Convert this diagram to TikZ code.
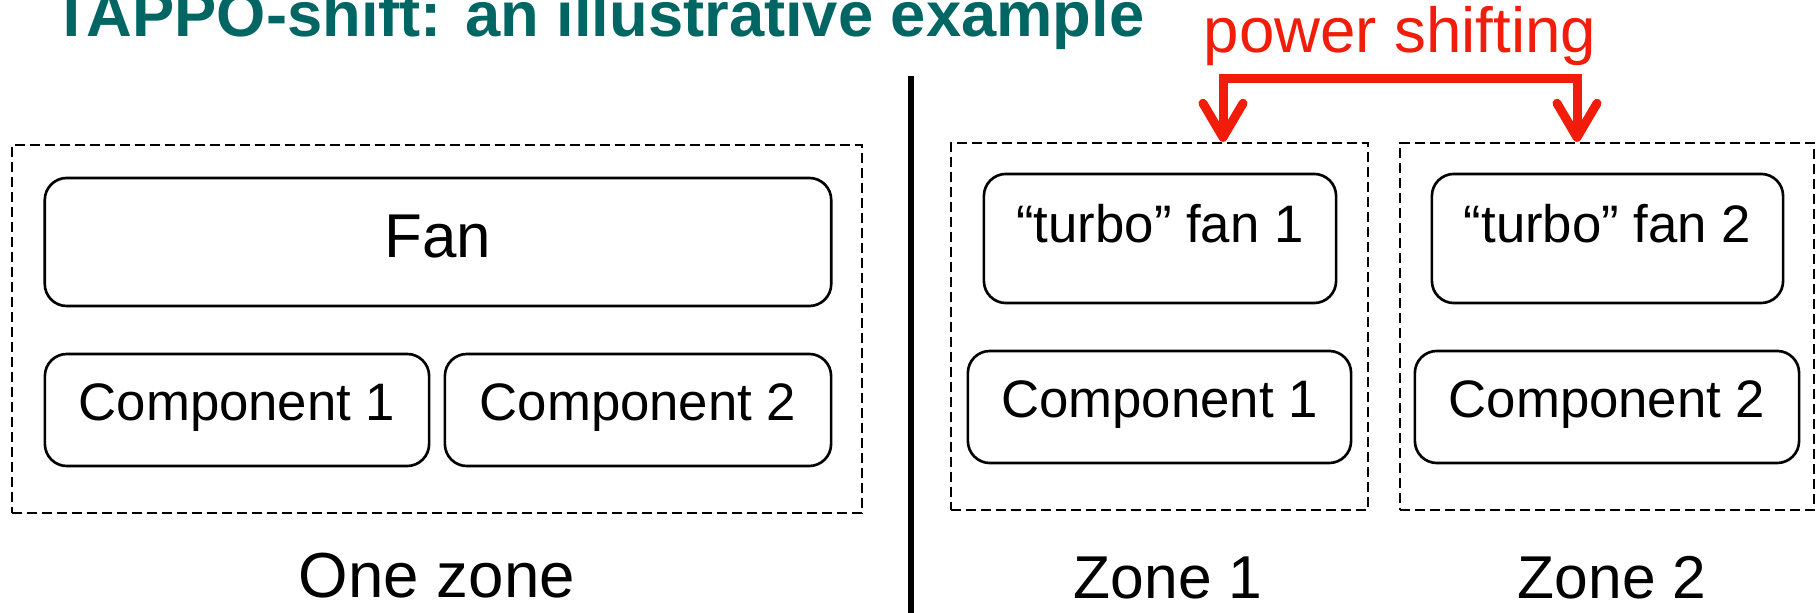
\documentclass[tikz,border=0pt]{standalone}
\usepackage{fontspec}
\setmainfont{Liberation Sans}
\usepackage{tikz}
\usetikzlibrary{arrows.meta}
\definecolor{titleteal}{RGB}{0,102,99}
\definecolor{shiftred}{RGB}{242,28,10}

\begin{document}
\begin{tikzpicture}[x=0.01cm, y=-0.01cm,
    zone/.style={draw, dash pattern=on 0.1cm off 0.05cm, line width=0.6pt, inner sep=0pt},
    box/.style={draw, rounded corners=0.22cm, line width=0.75pt, inner sep=0pt},
    fanbox/.style={box, font=\fontsize{17.6}{20}\selectfont, text height=0.45cm, text depth=0.15cm},
    turbobox/.style={box, font=\fontsize{15.0}{18}\selectfont, text height=0.40cm, text depth=0.31cm},
    compbox/.style={box, font=\fontsize{15.0}{18}\selectfont, text height=0.40cm, text depth=0.18cm},
    zonelabel/.style={anchor=base, inner sep=0pt, font=\fontsize{17.2}{20}\selectfont},
    shiftarrow/.style={draw=shiftred, line width=0.09cm, >={Straight Barb[length=0.34cm, width=0.40cm, round]}, <->}]
    \useasboundingbox (0,0) rectangle (1817,613);

    % Title and divider
    \node (title) [anchor=base west, inner sep=0pt, text=titleteal, font=\bfseries\fontsize{18}{20}\selectfont] at (52,37) {TAPPO-shift: an illustrative example};
    \coordinate (divTop) at (911,76);
    \coordinate (divBot) at (911,613);
    \draw[line width=1.7pt] (divTop) -- (divBot);

    % One zone (left)
    \node (oneZone) [zone, minimum width=8.50cm, minimum height=3.68cm] at (437,329) {};
    \node (fan) [fanbox, minimum width=7.86cm, minimum height=1.28cm] at (438,242) {Fan};
    \node (compL1) [compbox, minimum width=3.84cm, minimum height=1.12cm] at (237,410) {Component 1};
    \node (compL2) [compbox, minimum width=3.86cm, minimum height=1.12cm] at (638,410) {Component 2};
    \node (oneLabel) [zonelabel, font=\fontsize{18.1}{20}\selectfont] at (437,598) {One zone};

    % Two zones (right)
    \node (zoneA) [zone, minimum width=4.17cm, minimum height=3.67cm] at (1159.5,326.5) {};
    \node (fanA) [turbobox, minimum width=3.52cm, minimum height=1.29cm] at (1160,238.5) {“turbo” fan 1};
    \node (compA) [compbox, minimum width=3.83cm, minimum height=1.12cm] at (1159.5,407) {Component 1};
    \node (zoneALabel) [zonelabel] at (1168,599) {Zone 1};

    \node (zoneB) [zone, minimum width=4.14cm, minimum height=3.67cm] at (1607,326.5) {};
    \node (fanB) [turbobox, minimum width=3.51cm, minimum height=1.29cm] at (1607.5,238.5) {“turbo” fan 2};
    \node (compB) [compbox, minimum width=3.84cm, minimum height=1.12cm] at (1607,407) {Component 2};
    \node (zoneBLabel) [zonelabel] at (1612,599) {Zone 2};

    % Power shifting bracket
    \node (shiftLabel) [anchor=base, inner sep=0pt, text=shiftred, font=\fontsize{18.1}{20}\selectfont] at (1400,53) {power shifting};
    \coordinate (shiftL) at (1223,79);
    \coordinate (shiftR) at (1577,79);
    \draw[shiftarrow] (zoneA.north -| shiftL) -- (shiftL) -- (shiftR) -- (zoneB.north -| shiftR);
\end{tikzpicture}
\end{document}
